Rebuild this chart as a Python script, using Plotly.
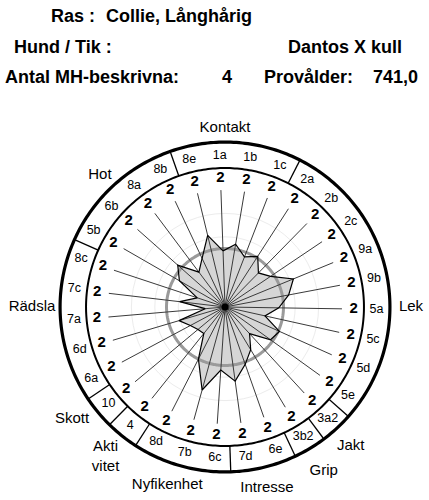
import numpy as np
import plotly.graph_objects as go

# -----------------------------
# DATA
# -----------------------------
breed = "Collie, Långhårig"
dog = "Dantos X kull"
n_described = "4"
test_age = "741,0"

# moments clockwise from the top
codes = ["1a", "1b", "1c", "2a", "2b", "2c", "9a", "9b", "5a", "5c", "5d",
         "5e", "3a2", "3b2", "6e", "7d", "6c", "7b", "8d", "4", "10", "6a",
         "6d", "7a", "7c", "8c", "5b", "6b", "8a", "8b", "8e"]
spoke_labels = ["2"] * len(codes)
values = [2.4, 2.72, 2.3, 2.58, 2.04, 2.35, 3.16, 2.77, 2.3, 1.75, 2.55,
          2.4, 1.55, 2.13, 2.6, 3.2, 2.7, 3.68, 2.5, 1.45, 1.5, 1.68,
          2.05, 0.85, 1.95, 1.25, 2.25, 2.7, 1.86, 2.3, 3.15]

groups = ["Kontakt", "Lek", "Jakt", "Grip", "Intresse", "Nyfikenhet",
          "Akti<br>vitet", "Skott", "Rädsla", "Hot"]
group_start = ["8e", "2a", "3a2", "3b2", "6e", "6c", "4", "10", "6a", "5b"]

# -----------------------------
# GEOMETRY (layout only)
# -----------------------------
n = len(codes)
step = 360 / n
theta = [i * step for i in range(n)]
spoke_end = 5.0
ring_inner = 5.94
ring_outer = 7.05
r_max = 8.25
label_theta = [2, 92, 140, 151, 169, 200, 220.5, 235.8, 272, 318.6]
label_r = [7.65, 7.95, 8.03, 8.19, 7.97, 7.99, 8.2, 8.1, 7.25, 7.78]
label_pos = ["middle center"] * 8 + ["middle left", "middle center"]

FONT = "Liberation Sans"

fig = go.Figure()

# polygon
fig.add_trace(go.Scatterpolar(
    r=values + values[:1], theta=theta + theta[:1],
    mode="lines", fill="toself", fillcolor="#d6d6d6",
    line=dict(color="rgba(0,0,0,0)", width=0), hoverinfo="skip"
))

# gray reference ring
circle_t = list(np.arange(0, 361, 1.0))
fig.add_trace(go.Scatterpolar(
    r=[2.5] * len(circle_t), theta=circle_t, mode="lines",
    line=dict(color="#9a9a9a", width=3), hoverinfo="skip"
))

# spokes
sr, st = [], []
for t in theta:
    sr += [0, spoke_end, None]
    st += [t, t, None]
fig.add_trace(go.Scatterpolar(
    r=sr, theta=st, mode="lines",
    line=dict(color="#3a3a3a", width=1), hoverinfo="skip"
))

# polygon outline
fig.add_trace(go.Scatterpolar(
    r=values + values[:1], theta=theta + theta[:1], mode="lines",
    line=dict(color="black", width=1.2), hoverinfo="skip"
))

# centre dot
fig.add_trace(go.Scatterpolar(
    r=[0], theta=[0], mode="markers",
    marker=dict(color="black", size=7), hoverinfo="skip"
))

# code ring circles
fig.add_trace(go.Scatterpolar(
    r=[ring_inner] * len(circle_t), theta=circle_t, mode="lines",
    line=dict(color="black", width=2), hoverinfo="skip"
))
fig.add_trace(go.Scatterpolar(
    r=[ring_outer] * len(circle_t), theta=circle_t, mode="lines",
    line=dict(color="black", width=3.2), hoverinfo="skip"
))

# group separators in the code ring
gr, gt = [], []
for c in group_start:
    t = (codes.index(c) - 0.5) * step
    gr += [ring_inner, ring_outer, None]
    gt += [t, t, None]
fig.add_trace(go.Scatterpolar(
    r=gr, theta=gt, mode="lines",
    line=dict(color="black", width=1.3), hoverinfo="skip"
))

# "2" labels at spoke ends
fig.add_trace(go.Scatterpolar(
    r=[5.5] * n, theta=theta, mode="text", text=spoke_labels,
    textfont=dict(family=FONT, size=15, color="black", weight="bold"),
    hoverinfo="skip"
))

# moment codes in the ring
fig.add_trace(go.Scatterpolar(
    r=[6.48] * n, theta=theta, mode="text", text=codes,
    textfont=dict(family=FONT, size=12.5, color="black"),
    hoverinfo="skip"
))

# group names outside the ring
fig.add_trace(go.Scatterpolar(
    r=label_r, theta=label_theta, mode="text", text=groups,
    textposition=label_pos,
    textfont=dict(family=FONT, size=15, color="black"),
    cliponaxis=False, hoverinfo="skip"
))

fig.update_layout(
    width=429, height=500,
    margin=dict(l=0, r=0, t=0, b=0),
    paper_bgcolor="white", plot_bgcolor="white",
    showlegend=False,
    polar=dict(
        domain=dict(x=[32 / 429, 418 / 429], y=[0, 386 / 500]),
        bgcolor="white",
        radialaxis=dict(range=[0, r_max], tickvals=[1, 2, 3, 4],
                        showticklabels=False, ticks="", showline=False,
                        gridcolor="#ececec", gridwidth=1),
        angularaxis=dict(direction="clockwise", rotation=92,
                         thetaunit="degrees", showgrid=False,
                         showticklabels=False, ticks="", showline=False),
    ),
)

# -----------------------------
# HEADER
# -----------------------------
def head(txt, x, y):
    fig.add_annotation(text="<b>" + txt + "</b>", x=x / 429, y=1 - y / 500,
                       xref="paper", yref="paper", xanchor="left",
                       yanchor="middle", showarrow=False,
                       font=dict(family=FONT, size=18, color="black"))

head("Ras :", 49, 16)
head(breed, 104, 16)
head("Hund / Tik :", 12, 47)
head(dog, 286, 47)
head("Antal MH-beskrivna:", 3, 77)
head(n_described, 220, 77)
head("Provålder:", 262, 77)
head(test_age, 371, 77)

fig.write_html("out.html", config={"displayModeBar": False},
               post_script="document.body.style.margin='0';")
